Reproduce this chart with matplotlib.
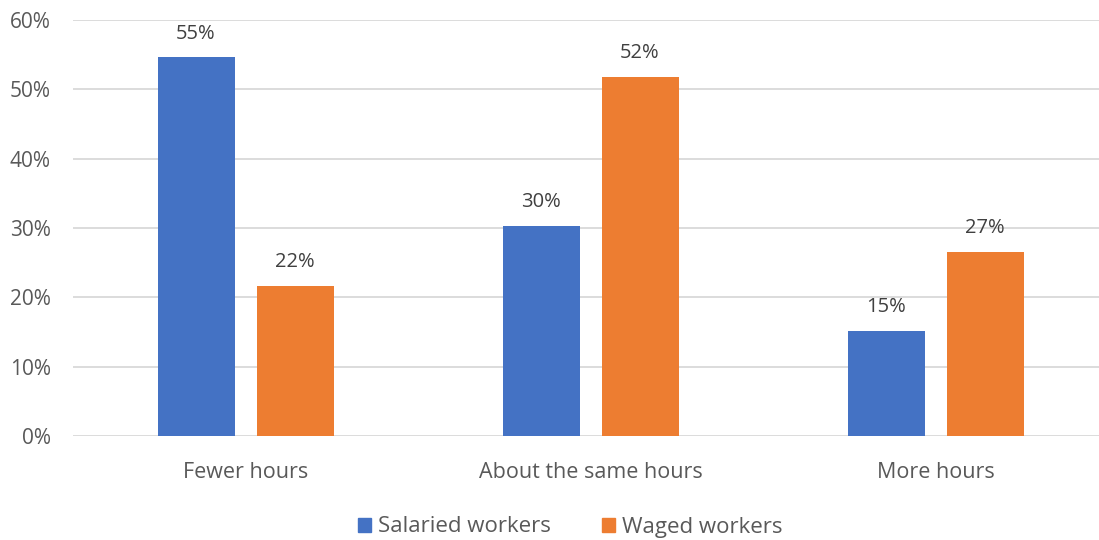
import matplotlib
matplotlib.use("Agg")
import matplotlib.pyplot as plt
import numpy as np
from matplotlib.patches import Patch

categories = ["Fewer hours", "About the same hours", "More hours"]
salaried = [0.546, 0.303, 0.151]
waged = [0.217, 0.518, 0.266]
series_names = ["Salaried workers", "Waged workers"]
colors = ["#4472C4", "#ED7D31"]
yticks = [0, 0.1, 0.2, 0.3, 0.4, 0.5, 0.6]

plt.rcParams['font.family'] = ['Open Sans', 'DejaVu Sans']
text_color = "#595959"

fig = plt.figure(figsize=(10.99, 5.40), dpi=100)
W, H = 1099, 540
left_px, right_px = 73, 1099
bottom_px, top_px = 436, 20
ax = fig.add_axes([left_px / W, (H - bottom_px) / H, (right_px - left_px) / W, (bottom_px - top_px) / H])

cat_w = 345.0
x = np.arange(len(categories))
bw = 77 / cat_w
gap = 22 / cat_w
off = bw / 2 + gap / 2

for vals, c, dx in [(salaried, colors[0], -off), (waged, colors[1], off)]:
    bars = ax.bar(x + dx, vals, width=bw, color=c, zorder=3)
    for b, v in zip(bars, vals):
        ax.annotate(f"{round(v * 100):.0f}%", (b.get_x() + b.get_width() / 2, v),
                    xytext=(0, 10), textcoords="offset points", ha="center", va="bottom",
                    fontsize=14.5, color="#404040")

ax.set_xlim(-0.5, -0.5 + (right_px - left_px) / cat_w)
ax.set_ylim(0, 0.6)
ax.set_yticks(yticks)
ax.set_yticklabels([f"{int(round(t * 100))}%" for t in yticks])
ax.set_xticks(x)
ax.set_xticklabels(categories)
ax.grid(axis="y", color="#D9D9D9", linewidth=1.3, zorder=0)
for s in ax.spines.values():
    s.set_visible(False)
ax.tick_params(axis="y", length=0, colors=text_color, labelsize=15, pad=16)
ax.tick_params(axis="x", length=0, colors=text_color, labelsize=15.5, pad=19)

handles = [Patch(color=colors[0]), Patch(color=colors[1])]
leg = fig.legend(handles, series_names, loc="center", bbox_to_anchor=(570 / W, 1 - 527 / H),
                 ncol=2, frameon=False, fontsize=16, handlelength=0.6, handleheight=0.6,
                 handletextpad=0.3, columnspacing=2.3)
for t in leg.get_texts():
    t.set_color(text_color)

fig.savefig("out.png", dpi=100)
